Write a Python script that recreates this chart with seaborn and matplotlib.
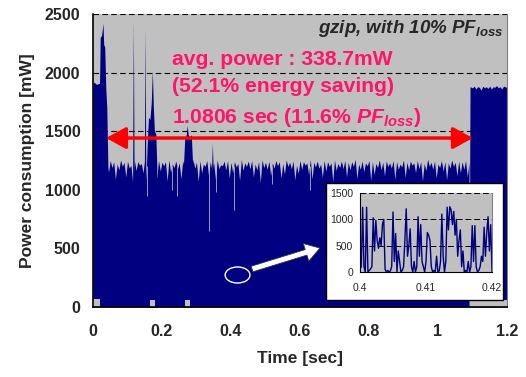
import numpy as np
import matplotlib
matplotlib.use('Agg')
import matplotlib.pyplot as plt
import seaborn as sns
from matplotlib.patches import Ellipse, Rectangle

# --- dados ---
# início (CPU em carga total) e pico inicial
start_t = [0.0, 0.003, 0.010, 0.019, 0.021, 0.025, 0.029, 0.031, 0.034, 0.037, 0.040, 0.043]
start_top = [1900, 1920, 1900, 1910, 2300, 2320, 2420, 2240, 2220, 1870, 1700, 1220]

# patamar com DVS (~1200 mW), topo "serrilhado": picos e vales alternados
base_peaks = [1230, 1250, 1240, 1220, 1255, 1235, 1245, 1210, 1250, 1240,
              1225, 1260, 1230, 1245, 1215, 1250, 1235, 1240, 1255, 1220,
              1245, 1230, 1250, 1240, 1225, 1260, 1235, 1245, 1220, 1250,
              1240, 1230, 1255, 1215, 1245, 1250, 1235, 1240, 1225, 1260,
              1230, 1245, 1250, 1220, 1240, 1255, 1235, 1245, 1230, 1250,
              1240, 1225, 1255, 1235, 1245, 1210, 1250, 1240, 1230, 1260,
              1235, 1245, 1220, 1250, 1240, 1230, 1255, 1225, 1245, 1250,
              1235, 1240, 1260, 1220, 1245, 1230, 1250, 1240, 1225, 1255,
              1235, 1245, 1230, 1250, 1240, 1220, 1255, 1235, 1245, 1230,
              1250, 1240, 1225, 1260, 1235, 1245, 1220, 1250, 1240, 1230,
              1255, 1235, 1245, 1240, 1250, 1230]
base_dips = [1150, 1190, 1090, 1170, 1200, 1110, 1185, 1060, 1165, 1210,
             1145, 1080, 1195, 1180, 1100, 1160, 1205, 1075, 1150, 1190,
             1180, 1095, 1170, 1210, 1130, 1185, 1070, 1145, 1200, 1120,
             1165, 1090, 1180, 1205, 1170, 1100, 1145, 1195, 1080, 1165,
             1200, 1180, 1110, 1170, 1060, 1190, 1175, 1120, 1185, 1205,
             1100, 1135, 1200, 1180, 1085, 1140, 1175, 1210, 1130, 1090,
             1195, 1185, 1105, 1160, 1200, 1070, 1165, 1190, 1180, 1110,
             1170, 1200, 1095, 1175, 1155, 1205, 1080, 1130, 1190, 1170,
             1120, 1200, 1185, 1090, 1175, 1195, 1105, 1170, 1210, 1145,
             1180, 1075, 1165, 1200, 1175, 1100, 1190, 1160, 1085, 1185,
             1200, 1120, 1145, 1175, 1110]

# picos e rajadas sobre o patamar
spikes = {
    's1': ([0.115, 0.117, 0.119], [1200, 2440, 1200]),
    's2': ([0.149, 0.151, 0.153], [1200, 2380, 1200]),
    'b1': ([0.155, 0.158, 0.161, 0.165, 0.169, 0.172, 0.175, 0.178, 0.182, 0.185],
           [1200, 1450, 1620, 1600, 1750, 2020, 1700, 1500, 1480, 1200]),
    'b2': ([0.262, 0.266, 0.270, 0.273, 0.276, 0.280, 0.285, 0.289],
           [1200, 1440, 1460, 1550, 1470, 1450, 1470, 1200]),
    's3': ([0.344, 0.346, 0.348], [1200, 1400, 1200]),
}

# fim (CPU em carga total)
end_t = [1.092, 1.093, 1.100, 1.105, 1.110, 1.115, 1.120, 1.125, 1.130, 1.135, 1.140,
         1.145, 1.150, 1.155, 1.160, 1.165, 1.170, 1.175, 1.180, 1.185, 1.190, 1.195, 1.200]
end_top = [1200, 1880, 1870, 1885, 1860, 1880, 1875, 1850, 1885, 1870, 1880,
           1865, 1885, 1860, 1880, 1875, 1890, 1870, 1880, 1860, 1885, 1880, 1870]

# intervalos com consumo mínimo ~60-70 mW (chão cinza)
floor_t0 = [0.0, 0.165, 0.267, 1.093]
floor_t1 = [0.020, 0.180, 0.281, 1.200]
floor_mw = [70, 60, 60, 60]

# quedas finas visíveis dentro da área preenchida
gap_t = [0.156, 0.228, 0.243, 0.336, 0.358, 0.410, 0.520, 0.630]
gap_lo = [950, 1000, 950, 650, 980, 830, 1050, 1000]

# detalhe 0.40 - 0.42 s
inset_mw = [60, 100, 1230, 100, 0, 1230, 0, 30, 60, 100,
            1030, 400, 980, 600, 450, 650, 500, 900, 1000, 50,
            0, 30, 0, 20, 100, 1140, 200, 730, 0, 400,
            200, 0, 30, 100, 600, 1200, 300, 500, 820, 100,
            0, 200, 0, 100, 1050, 300, 900, 200, 100, 0,
            200, 750, 700, 600, 100, 0, 30, 0, 300, 0,
            20, 200, 1100, 300, 0, 200, 1230, 800, 1240, 1180,
            900, 1150, 700, 1000, 300, 600, 800, 100, 400, 0,
            30, 0, 200, 0, 100, 880, 200, 880, 100, 0,
            30, 100, 300, 200, 850, 300, 750, 1050, 400, 900, 0]
inset_t = np.linspace(0.4, 0.42, len(inset_mw))

# --- estilo ---
sns.set_style('white')
plt.rcParams['font.family'] = ['Liberation Sans', 'DejaVu Sans']
plt.rcParams['mathtext.fontset'] = 'custom'
plt.rcParams['mathtext.it'] = 'Liberation Sans:italic:bold'
plt.rcParams['mathtext.rm'] = 'Liberation Sans:bold'
plt.rcParams['mathtext.bf'] = 'Liberation Sans:bold'

BG = '#C0C0C0'
NAVY = '#000080'
PINK = '#FF1469'

fig = plt.figure(figsize=(5.26, 3.77), dpi=100)
ax = fig.add_axes([0.1768, 0.1857, 0.787, 0.777])
ax.set_facecolor(BG)

# traço principal
ax.fill_between(start_t, 0, start_top, color=NAVY, lw=0)
base_t = np.linspace(0.04, 1.09, len(base_peaks) + len(base_dips))
base_top = np.empty(len(base_t))
base_top[0::2] = base_peaks
base_top[1::2] = base_dips
ax.fill_between(base_t, 0, base_top, color=NAVY, lw=0)
for t, v in spikes.values():
    ax.fill_between(t, 0, v, color=NAVY, lw=0)
ax.fill_between(end_t, 0, end_top, color=NAVY, lw=0)
for t0, t1, m in zip(floor_t0, floor_t1, floor_mw):
    ax.fill_between([t0, t1], 0, m, color=BG, lw=0)
ax.vlines(gap_t, gap_lo, 1200, color=BG, lw=0.7, alpha=0.8)

ax.set_xlim(0, 1.2)
ax.set_ylim(0, 2500)
ax.set_xticks([0, 0.2, 0.4, 0.6, 0.8, 1.0, 1.2])
ax.set_xticklabels(['0', '0.2', '0.4', '0.6', '0.8', '1', '1.2'])
ax.set_yticks([0, 500, 1000, 1500, 2000, 2500])
ax.tick_params(length=0, labelsize=11.5)
ax.tick_params(axis='x', pad=12)
ax.tick_params(axis='y', pad=9)
for lab in ax.get_xticklabels() + ax.get_yticklabels():
    lab.set_fontweight('bold')
ax.set_axisbelow(True)
ax.yaxis.grid(True, color='black', ls=(0, (5, 3)), lw=0.8)
ax.xaxis.grid(False)
ax.spines['top'].set_visible(False)
ax.spines['right'].set_color('#808080')
ax.spines['left'].set_color('black')
ax.spines['bottom'].set_color('black')
ax.spines['left'].set_linewidth(1.2)
ax.spines['bottom'].set_linewidth(1.2)
ax.set_xlabel('Time [sec]', fontsize=12.5, fontweight='bold', labelpad=9)
ax.set_ylabel('Power consumption [mW]', fontsize=12.5, fontweight='bold', labelpad=7)

# anotações
ax.text(1.19, 2338, r'gzip, with 10% $PF_{loss}$', ha='right', va='baseline',
        fontsize=13.5, fontweight='bold', style='italic')
ax.text(0.229, 2065, 'avg. power : 338.7mW', color=PINK, fontsize=15.2,
        fontweight='bold', va='baseline')
ax.text(0.229, 1834, '(52.1% energy saving)', color=PINK, fontsize=15.2,
        fontweight='bold', va='baseline')
ax.text(0.229, 1570, r'1.0806 sec (11.6% $PF_{loss}$)', color=PINK, fontsize=15.2,
        fontweight='bold', va='baseline')
ax.annotate('', xy=(0.038, 1442), xytext=(1.101, 1442),
            arrowprops=dict(arrowstyle='<|-|>,head_length=0.6,head_width=0.33',
                            color='red', lw=2.5, mutation_scale=20, shrinkA=0, shrinkB=0))

ax.add_patch(Ellipse((0.419, 273), 0.072, 137, fill=False, ec='white', lw=1))
ax.annotate('', xy=(0.658, 503), xytext=(0.461, 324),
            arrowprops=dict(arrowstyle='simple,head_length=0.75,head_width=0.95,tail_width=0.3',
                            fc='white', ec='#333333', lw=0.6, mutation_scale=14,
                            shrinkA=0, shrinkB=0))

# moldura branca do detalhe
ax.add_patch(Rectangle((0.6198, 0.2042), 0.3365, 0.3103, transform=fig.transFigure,
                       fc='white', ec='black', lw=1, clip_on=False, zorder=5))

axin = fig.add_axes([0.6844, 0.2785, 0.251, 0.2095])
axin.set_facecolor(BG)
sns.lineplot(x=inset_t, y=inset_mw, ax=axin, color=NAVY, lw=1)
axin.set_xlim(0.4, 0.42)
axin.set_ylim(0, 1500)
axin.set_xticks([0.4, 0.41, 0.42])
axin.set_xticklabels(['0.4', '0.41', '0.42'])
axin.set_yticks([0, 500, 1000, 1500])
axin.tick_params(length=0, labelsize=7.5)
axin.tick_params(axis='x', pad=8)
axin.tick_params(axis='y', pad=5)
axin.set_axisbelow(True)
axin.yaxis.grid(True, color='black', ls=(0, (6, 3)), lw=0.7)
axin.xaxis.grid(False)
axin.spines['top'].set_visible(False)
axin.spines['right'].set_color('#808080')
axin.spines['left'].set_color('black')
axin.spines['bottom'].set_color('black')
axin.set_xlabel('')
axin.set_ylabel('')

fig.savefig('out.png', dpi=100)
